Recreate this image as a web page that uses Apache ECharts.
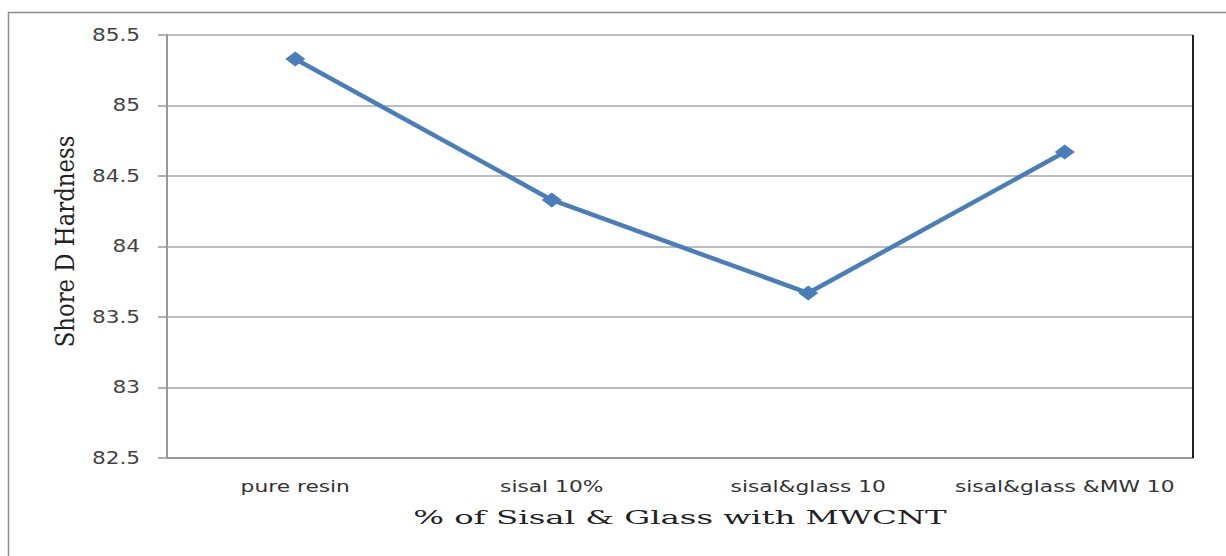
<!DOCTYPE html>
<html><head><meta charset="utf-8">
<script src="https://cdn.jsdelivr.net/npm/echarts@6/dist/echarts.min.js"></script>
<style>html,body{margin:0;padding:0;background:#fff}#c{width:1226px;height:556px}</style>
</head><body><div id="c"></div>
<script>
const categories = ['pure resin', 'sisal 10%', 'sisal&glass 10', 'sisal&glass &MW 10'];
const hardness = [85.33, 84.33, 83.67, 84.67];
const yTicks = [82.5, 83, 83.5, 84, 84.5, 85, 85.5];
const xTitle = '% of Sisal & Glass with MWCNT';
const yTitle = 'Shore D Hardness';

const chart = echarts.init(document.getElementById('c'), null, { renderer: 'svg' });
chart.setOption({
  animation: false,
  backgroundColor: '#fff',
  grid: { left: 167, right: 33, top: 35, bottom: 98, show: false },
  graphic: [
    { type: 'rect', shape: { x: 8.5, y: 12.5, width: 1240, height: 560 }, style: { fill: 'none', stroke: '#8c8c8c', lineWidth: 1.5 }, silent: true },
    { type: 'line', shape: { x1: 1193, y1: 35, x2: 1193, y2: 458 }, style: { stroke: '#222', lineWidth: 2 }, silent: true, z: 10 }
  ],
  xAxis: {
    type: 'category',
    data: categories,
    boundaryGap: true,
    name: xTitle,
    nameLocation: 'middle',
    nameGap: 51,
    nameTextStyle: { fontFamily: 'DejaVu Serif', fontSize: 18, color: '#222' },
    axisLine: { lineStyle: { color: '#999', width: 2 } },
    axisTick: { show: false },
    axisLabel: { fontFamily: 'DejaVu Sans', fontSize: 15, color: '#333', margin: 21 }
  },
  yAxis: {
    type: 'value',
    min: 82.5, max: 85.5, interval: 0.5,
    name: yTitle,
    nameLocation: 'middle',
    nameGap: 93,
    nameTextStyle: { fontFamily: 'DejaVu Serif', fontSize: 19, color: '#222', padding: [0, 0, 0, 10] },
    axisLine: { show: true, lineStyle: { color: '#999', width: 2 } },
    axisTick: { show: true, length: 9, lineStyle: { color: '#999', width: 1.5 } },
    axisLabel: { fontFamily: 'DejaVu Sans', fontSize: 17, color: '#444', margin: 27,
      formatter: v => yTicks.includes(v) ? String(v) : '' },
    splitLine: { show: true, lineStyle: { color: '#a6a6a6', width: 1.5 } }
  },
  series: [{
    type: 'line',
    data: hardness,
    symbol: 'diamond',
    symbolSize: [20, 15],
    lineStyle: { color: '#4a7ebb', width: 4.5 },
    itemStyle: { color: '#4a7ebb' }
  }]
});

// The reference image is horizontally stretched; emulate by widening text glyph runs.
function stretchText() {
  const texts = document.querySelectorAll('#c text');
  texts.forEach(el => {
    if (el.dataset.stretched) return;
    const t = el.textContent;
    let sx = 0, sy = 1, anchor = 'middle';
    if (categories.includes(t)) sx = 1.45;
    else if (t === xTitle) sx = 1.8;
    else if (t === yTitle) { sx = 1.2; sy = 1.4; }
    else if (yTicks.map(String).includes(t)) { sx = 1.27; anchor = 'end'; }
    if (!sx) return;
    const bb = el.getBBox();
    const cx = anchor === 'end' ? bb.x + bb.width : bb.x + bb.width / 2;
    const cy = bb.y + bb.height / 2;
    const prev = el.getAttribute('transform') || '';
    el.setAttribute('transform', prev + ` translate(${cx},${cy}) scale(${sx},${sy}) translate(${-cx},${-cy})`);
    el.dataset.stretched = '1';
  });
}
chart.on('finished', stretchText);
setTimeout(stretchText, 50);
</script></body></html>
